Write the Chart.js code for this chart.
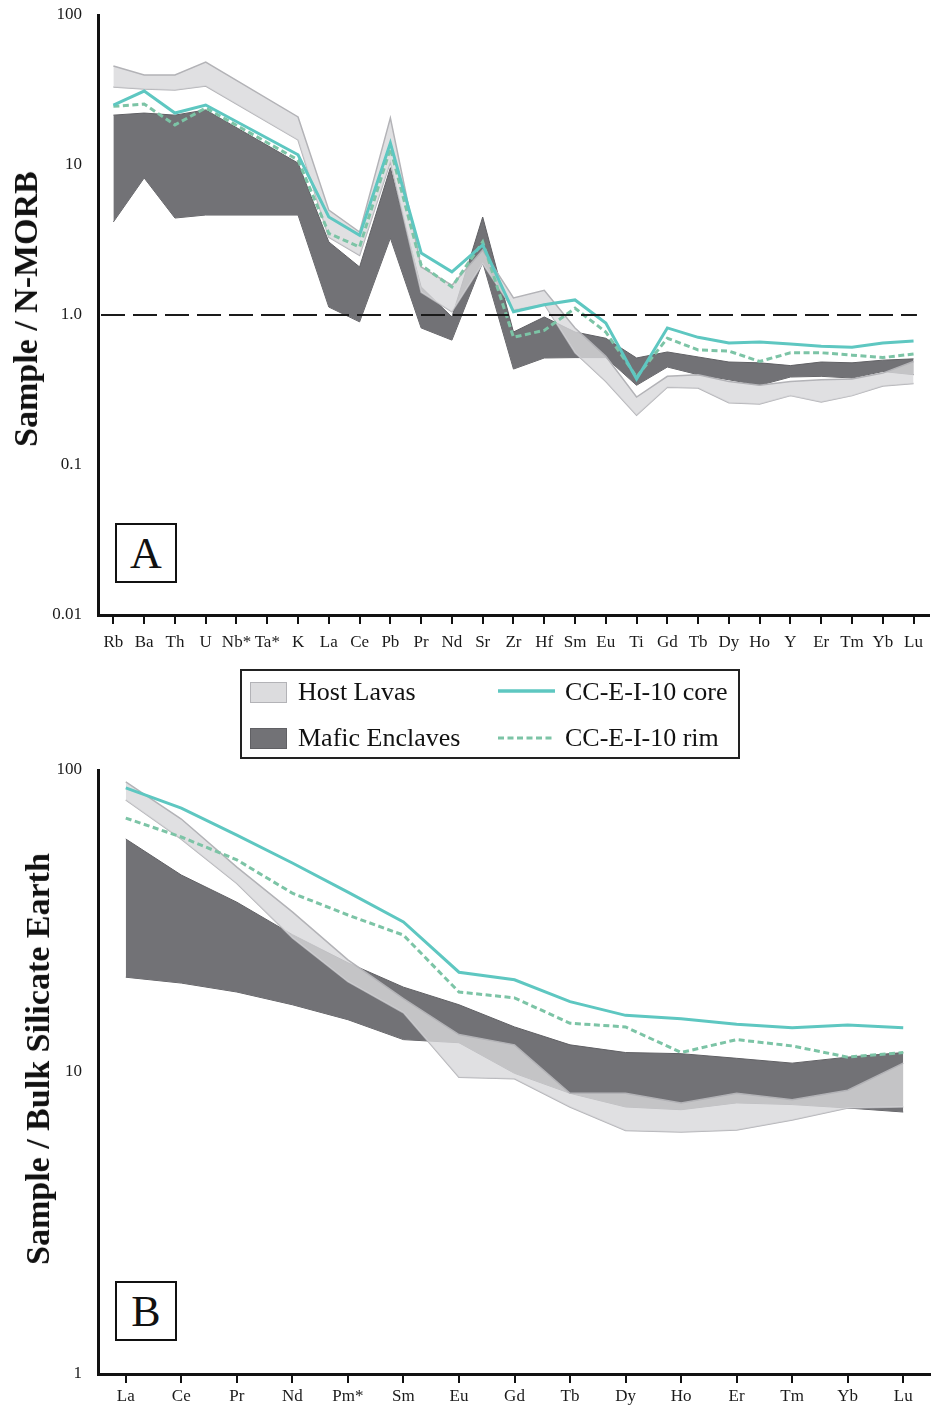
<!DOCTYPE html>
<html>
<head>
<meta charset="utf-8">
<title>Trace element diagrams</title>
<script src="https://cdn.jsdelivr.net/npm/chart.js@4.4.1/dist/chart.umd.min.js"></script>
<style>
  html, body { margin: 0; padding: 0; background: #fff; }
  body { width: 931px; height: 1408px; position: relative; overflow: hidden;
         font-family: "Liberation Serif", "Times New Roman", serif; color: #111; }
  canvas { position: absolute; left: 0; }
  #chartA { top: 0; }
  #chartB { top: 755px; }
  .ytitle { position: absolute; font-size: 34px; font-weight: bold; line-height: 40px; white-space: nowrap;
            transform: translate(-50%, -50%) rotate(-90deg); }
  .panel-tag { position: absolute; left: 115px; width: 58px; height: 56px; border: 2px solid #111;
               font-size: 44px; line-height: 58px; text-align: center; background: #fff; }
  .legend { position: absolute; left: 240px; top: 669px; width: 496px; height: 86px; border: 2px solid #222; }
  .legend .sw { position: absolute; left: 8px; width: 35px; height: 19px; }
  .legend .txt { position: absolute; font-size: 26px; line-height: 30px; white-space: nowrap; }
  .legend svg { position: absolute; left: 256px; }
</style>
</head>
<body>
<canvas id="chartA" width="931" height="662"></canvas>
<canvas id="chartB" width="931" height="653"></canvas>

<div class="ytitle" style="left:26px;top:309px">Sample / N-MORB</div>
<div class="ytitle" style="left:38px;top:1059px">Sample / Bulk Silicate Earth</div>

<div class="panel-tag" style="top:523px">A</div>
<div class="panel-tag" style="top:1281px">B</div>

<div class="legend">
  <div class="sw" style="top:11px;background:#dcdcde;border:1px solid #b3b3b7"></div>
  <div class="txt" style="left:56px;top:6px">Host Lavas</div>
  <div class="sw" style="top:57px;background:#727276;border:1px solid #606064"></div>
  <div class="txt" style="left:56px;top:52px">Mafic Enclaves</div>
  <svg width="58" height="8" style="top:16px"><line x1="0" y1="4" x2="57" y2="4" stroke="#5ec7c1" stroke-width="3.5"/></svg>
  <div class="txt" style="left:323px;top:6px">CC-E-I-10 core</div>
  <svg width="58" height="8" style="top:63px"><line x1="0" y1="4" x2="57" y2="4" stroke="#7cc4a6" stroke-width="3" stroke-dasharray="6 3.5"/></svg>
  <div class="txt" style="left:323px;top:52px">CC-E-I-10 rim</div>
</div>

<script>
// ---- A: N-MORB normalised multi-element diagram ----
const elementsA = ['Rb', 'Ba', 'Th', 'U', 'Nb*', 'Ta*', 'K', 'La', 'Ce', 'Pb', 'Pr', 'Nd', 'Sr', 'Zr',
                   'Hf', 'Sm', 'Eu', 'Ti', 'Gd', 'Tb', 'Dy', 'Ho', 'Y', 'Er', 'Tm', 'Yb', 'Lu'];
const coreA = [25.1, 31.1, 22.2, 25.1, null, null, 11.7, 4.5, 3.4, 14.0, 2.59, 1.94, 2.93, 1.05,
               1.17, 1.26, 0.885, 0.374, 0.82, 0.71, 0.65, 0.66, 0.64, 0.62, 0.61, 0.65, 0.67];
const rimA = [24.6, 25.5, 18.5, 24.0, null, null, 10.8, 3.5, 2.84, 12.9, 2.15, 1.54, 3.07, 0.71,
              0.79, 1.11, 0.77, 0.386, 0.70, 0.585, 0.575, 0.49, 0.56, 0.56, 0.54, 0.52, 0.55];
const hostMaxA = [45.7, 39.8, 39.8, 48.6, null, null, 20.9, 5.0, 3.57, 20.6, 2.09, 1.58, 2.71, 1.30,
                  1.46, 0.82, 0.53, 0.284, 0.39, 0.40, 0.36, 0.34, 0.36, 0.37, 0.375, 0.41, 0.49];
const hostMinA = [33.1, 32.1, 31.6, 33.6, null, null, 14.7, 3.3, 2.5, 10.5, 1.42, 1.05, 2.2, 1.08,
                  1.18, 0.56, 0.36, 0.215, 0.33, 0.326, 0.26, 0.255, 0.29, 0.263, 0.29, 0.336, 0.35];
const maficMaxA = [21.5, 22.2, 21.5, 23.3, null, null, 10.3, 3.07, 2.09, 9.6, 1.54, 0.97, 4.5, 0.77,
                   0.97, 0.77, 0.70, 0.517, 0.567, 0.525, 0.486, 0.48, 0.46, 0.486, 0.48, 0.50, 0.51];
const maficMinA = [4.17, 8.2, 4.43, 4.64, null, null, 4.64, 1.13, 0.90, 3.26, 0.82, 0.68, 2.25, 0.436,
                   0.517, 0.52, 0.52, 0.34, 0.45, 0.40, 0.37, 0.34, 0.386, 0.39, 0.38, 0.42, 0.40];
const yTicksA = [100, 10, 1, 0.1, 0.01];
const yLabelsA = ['100', '10', '1.0', '0.1', '0.01'];
const unityA = 1;

// ---- B: Bulk Silicate Earth normalised REE diagram ----
const elementsB = ['La', 'Ce', 'Pr', 'Nd', 'Pm*', 'Sm', 'Eu', 'Gd', 'Tb', 'Dy', 'Ho', 'Er', 'Tm', 'Yb', 'Lu'];
const coreB = [87.2, 74.8, 60.9, 49.2, 39.4, 31.4, 21.4, 20.2, 17.1, 15.4, 15.0, 14.4, 14.0, 14.3, 14.0];
const rimB = [69.3, 60.0, 50.4, 39.1, 33.1, 28.4, 18.4, 17.6, 14.5, 14.1, 11.6, 12.8, 12.2, 11.2, 11.6];
const hostMaxB = [91.3, 68.8, 47.7, 33.9, 23.5, 17.5, 13.3, 12.3, 8.5, 8.5, 7.9, 8.5, 8.1, 8.7, 10.7];
const hostMinB = [79.6, 59.0, 42.1, 27.8, 19.9, 15.7, 9.6, 9.5, 7.66, 6.4, 6.33, 6.43, 6.93, 7.6, 7.66];
const maficMaxB = [59.1, 44.9, 36.5, 28.5, 23.0, 19.1, 16.7, 14.1, 12.3, 11.6, 11.5, 11.1, 10.7, 11.2, 11.6];
const maficMinB = [20.6, 19.7, 18.4, 16.7, 14.9, 12.8, 12.5, 9.9, 8.5, 7.66, 7.5, 7.9, 7.8, 7.6, 7.37];
const yTicksB = [100, 10, 1];
const yLabelsB = ['100', '10', '1'];

const coreColor = '#5ec7c1';
const rimColor = '#7cc4a6';
const hostFill = 'rgba(216, 216, 219, 0.8)';
const hostLine = '#b3b3b7';
const maficFill = '#727276';
const maficLine = '#606064';

Chart.defaults.font.family = '"Liberation Serif", "Times New Roman", serif';
Chart.defaults.color = '#1a1a1a';

// dashed line at sample = N-MORB
const unityLine = {
  id: 'unityLine',
  afterDatasetsDraw(chart, args, opts) {
    if (opts.value == null) return;
    const { ctx, chartArea } = chart;
    const y = chart.scales.y.getPixelForValue(opts.value);
    ctx.save();
    ctx.strokeStyle = '#1a1a1a';
    ctx.lineWidth = 2;
    ctx.setLineDash([24, 8]);
    ctx.beginPath();
    ctx.moveTo(chartArea.left + 3, y);
    ctx.lineTo(chartArea.right - 12, y);
    ctx.stroke();
    ctx.restore();
  }
};

function makeDatasets(core, rim, hostMax, hostMin, maficMax, maficMin) {
  const base = { pointRadius: 0, tension: 0, spanGaps: true };
  // first dataset is painted last, so the sample lines sit on top of the fields
  return [
    { ...base, label: 'CC-E-I-10 core', data: core, borderColor: coreColor, borderWidth: 3, fill: false },
    { ...base, label: 'CC-E-I-10 rim', data: rim, borderColor: rimColor, borderWidth: 3,
      borderDash: [6, 3.5], fill: false },
    { ...base, label: 'Host Lavas', data: hostMax, borderColor: hostLine, borderWidth: 1.5,
      backgroundColor: hostFill, fill: '+1' },
    { ...base, label: 'Host Lavas (min)', data: hostMin, borderColor: hostLine, borderWidth: 1.5, fill: false },
    { ...base, label: 'Mafic Enclaves', data: maficMax, borderColor: maficLine, borderWidth: 1,
      backgroundColor: maficFill, fill: '+1' },
    { ...base, label: 'Mafic Enclaves (min)', data: maficMin, borderColor: maficLine, borderWidth: 1, fill: false }
  ];
}

function makeScales(cfg) {
  return {
    x: {
      type: 'category',
      offset: true,
      grid: { drawOnChartArea: false, drawTicks: true, tickLength: 9, color: '#111', lineWidth: 2 },
      border: { display: true, color: '#111', width: 3 },
      ticks: { color: '#1a1a1a', font: { size: 17 }, padding: cfg.xPad, maxRotation: 0, autoSkip: false },
      afterFit: (s) => { s.height = cfg.xHeight; }
    },
    y: {
      type: 'logarithmic',
      min: cfg.min,
      max: cfg.max,
      grid: { display: false, drawTicks: false },
      border: { display: true, color: '#111', width: 3 },
      ticks: { color: '#1a1a1a', font: { size: 17 }, padding: 16, callback: (v, i) => cfg.labels[i] },
      afterBuildTicks: (s) => { s.ticks = cfg.ticks.map((v) => ({ value: v })); },
      afterFit: (s) => { s.width = 98; s.paddingTop = 0; s.paddingBottom = 0; }
    }
  };
}

const commonOptions = {
  responsive: false,
  animation: false,
  layout: { padding: { top: 15, left: 0, right: 0, bottom: 0 } },
  plugins: { legend: { display: false }, tooltip: { enabled: false } }
};

new Chart(document.getElementById('chartA'), {
  type: 'line',
  data: { labels: elementsA, datasets: makeDatasets(coreA, rimA, hostMaxA, hostMinA, maficMaxA, maficMinA) },
  options: {
    ...commonOptions,
    plugins: { ...commonOptions.plugins, unityLine: { value: unityA } },
    scales: makeScales({ min: 0.01, max: 100, ticks: yTicksA, labels: yLabelsA, xHeight: 47, xPad: 8 })
  },
  plugins: [unityLine]
});

new Chart(document.getElementById('chartB'), {
  type: 'line',
  data: { labels: elementsB, datasets: makeDatasets(coreB, rimB, hostMaxB, hostMinB, maficMaxB, maficMinB) },
  options: {
    ...commonOptions,
    scales: makeScales({ min: 1, max: 100, ticks: yTicksB, labels: yLabelsB, xHeight: 34, xPad: 3 })
  }
});
</script>
</body>
</html>
